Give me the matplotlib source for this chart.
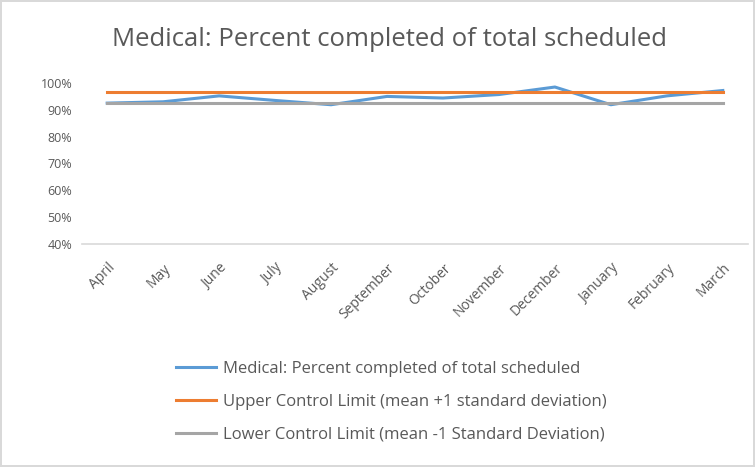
import matplotlib
matplotlib.use("Agg")
import matplotlib.pyplot as plt
from matplotlib.ticker import PercentFormatter

months = ["April", "May", "June", "July", "August", "September", "October",
          "November", "December", "January", "February", "March"]
pct_completed = [0.925, 0.930, 0.952, 0.935, 0.919, 0.950, 0.944,
                 0.957, 0.985, 0.919, 0.952, 0.972]
upper_limit = [0.965] * 12
lower_limit = [0.926] * 12

label_main = "Medical: Percent completed of total scheduled"
label_ucl = "Upper Control Limit (mean +1 standard deviation)"
label_lcl = "Lower Control Limit (mean -1 Standard Deviation)"

text_col = "#595959"
plt.rcParams["font.family"] = ["Open Sans", "DejaVu Sans"]

fig = plt.figure(figsize=(7.55, 4.67), dpi=100)
fig.patch.set_edgecolor("#d9d9d9")
fig.patch.set_linewidth(1.5)
ax = fig.add_axes([82 / 755, 1 - 244 / 467, 666 / 755, 161 / 467])

x = list(range(len(months)))
ax.plot(x, pct_completed, color="#5B9BD5", lw=2.2, label=label_main)
ax.plot(x, upper_limit, color="#ED7D31", lw=2.2, label=label_ucl)
ax.plot(x, lower_limit, color="#A5A5A5", lw=2.2, label=label_lcl)

ax.set_xlim(-0.45, 11.45)
ax.set_ylim(0.4, 1.0)
ax.set_yticks([0.4, 0.5, 0.6, 0.7, 0.8, 0.9, 1.0])
ax.yaxis.set_major_formatter(PercentFormatter(1.0, decimals=0))
ax.set_xticks(x)
ax.set_xticklabels(months, rotation=45, ha="right", rotation_mode="anchor")
ax.tick_params(axis="both", length=0, labelcolor=text_col)
ax.tick_params(axis="x", pad=12, labelsize=10)
ax.tick_params(axis="y", pad=7, labelsize=9)

for side in ["top", "right", "left"]:
    ax.spines[side].set_visible(False)
ax.spines["bottom"].set_color("#d9d9d9")
ax.spines["bottom"].set_linewidth(1.2)

fig.text(390 / 755, 1 - 40 / 467, label_main, ha="center", va="center",
         fontsize=18.5, color=text_col)

fig.legend(loc="upper left", bbox_to_anchor=(161 / 755, 1 - 346 / 467),
           frameon=False, fontsize=12, labelcolor=text_col,
           handlelength=2.4, handletextpad=0.4, labelspacing=1.0)

fig.savefig("out.png", dpi=100)
